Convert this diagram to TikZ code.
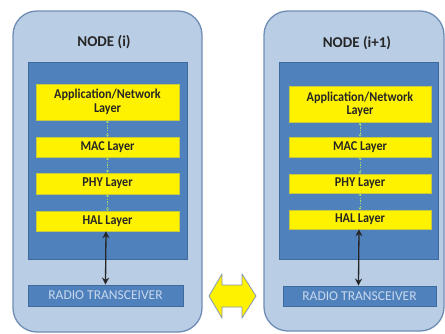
\documentclass[tikz,border=0pt]{standalone}
\usepackage{fontspec}
\setmainfont{Carlito}
\newfontfamily\layerfont{Carlito}[FakeStretch=0.9]
\usetikzlibrary{arrows.meta}
\definecolor{shellfill}{HTML}{B9CDE5}
\definecolor{shellline}{HTML}{6F8DB4}
\definecolor{stackfill}{HTML}{4F81BD}
\definecolor{stackline}{HTML}{3E6A9E}
\definecolor{layerline}{HTML}{C8C83C}
\definecolor{linkgreen}{HTML}{A6D86E}
\definecolor{radiotext}{HTML}{C9D8EC}
\definecolor{arrowline}{HTML}{8497B0}
\tikzset{
  x=1pt, y=-1pt,
  shell/.style={draw=shellline, line width=1.3pt, fill=shellfill, rounded corners=24pt},
  stack/.style={draw=stackline, line width=0.8pt, fill=stackfill},
  layer/.style={draw=layerline, line width=0.5pt, fill=yellow, inner sep=0pt,
    font=\layerfont\fontsize{13.5}{13.5}\selectfont\bfseries, text=black!85, align=center},
  radio/.style={draw=stackline, line width=0.8pt, fill=stackfill, inner sep=0pt,
    font=\fontsize{13.5}{14}\selectfont, text=radiotext},
  title/.style={font=\fontsize{15}{17}\selectfont\bfseries, text=black!85},
  link/.style={draw=linkgreen, dashed, dash pattern=on 1.5pt off 1.2pt, line width=0.9pt,
    {Stealth[length=2.5pt,width=3pt]}-{Stealth[length=2.5pt,width=3pt]}},
  bus/.style={draw=black!85, line width=1.3pt,
    {Stealth[length=7pt,width=7pt]}-{Stealth[length=7pt,width=7pt]}},
}
\begin{document}
\begin{tikzpicture}
\useasboundingbox (0,0) rectangle (445,333);

% ---- node i ----
\draw[shell] (13,11) rectangle (202,332);
\node[title] (ttlA) at (104,42) {NODE (i)};
\draw[stack] (28,62) rectangle (187,259);
\node[layer, minimum width=143pt, minimum height=36pt] (appA) at (107.5,102) {Application/Network\\Layer};
\node[layer, minimum width=143pt, minimum height=20pt] (macA) at (107.5,147) {MAC Layer};
\node[layer, minimum width=143pt, minimum height=21pt] (phyA) at (107.5,183.5) {PHY Layer};
\node[layer, minimum width=143pt, minimum height=20pt] (halA) at (107.5,221) {HAL Layer};
\node[radio, minimum width=155pt, minimum height=21pt] (radA) at (105.5,295.5) {RADIO TRANSCEIVER};
\draw[link] (appA.south) -- (macA.north);
\draw[link] (macA.south) -- (phyA.north);
\draw[link] (phyA.south) -- (halA.north);
\draw[bus] ([xshift=-1.5pt]halA.south) -- ([xshift=0pt]radA.north);

% ---- node i+1 ----
\draw[shell] (264,11) rectangle (444,331);
\node[title] (ttlB) at (357,43) {NODE (i+1)};
\draw[stack] (279,62) rectangle (438,259);
\node[layer, minimum width=142pt, minimum height=36pt] (appB) at (360,104.5) {Application/Network\\Layer};
\node[layer, minimum width=142pt, minimum height=20pt] (macB) at (360,147) {MAC Layer};
\node[layer, minimum width=142pt, minimum height=19pt] (phyB) at (360,183.5) {PHY Layer};
\node[layer, minimum width=142pt, minimum height=19pt] (halB) at (360,219.5) {HAL Layer};
\node[radio, minimum width=153pt, minimum height=20pt] (radB) at (359.5,296) {RADIO TRANSCEIVER};
\draw[link] (appB.south) -- (macB.north);
\draw[link] (macB.south) -- (phyB.north);
\draw[link] (phyB.south) -- (halB.north);
\draw[bus] ([xshift=-1pt]halB.south) -- ([xshift=-1pt]radB.north);

% ---- wireless link between the two radios ----
\draw[draw=arrowline, line width=0.8pt, fill=yellow, line join=round]
  (209,296) -- (222,274) -- (222,285) -- (242,285) -- (242,274) -- (256,296)
  -- (242,318) -- (242,307) -- (222,307) -- (222,318) -- cycle;
\end{tikzpicture}
\end{document}
